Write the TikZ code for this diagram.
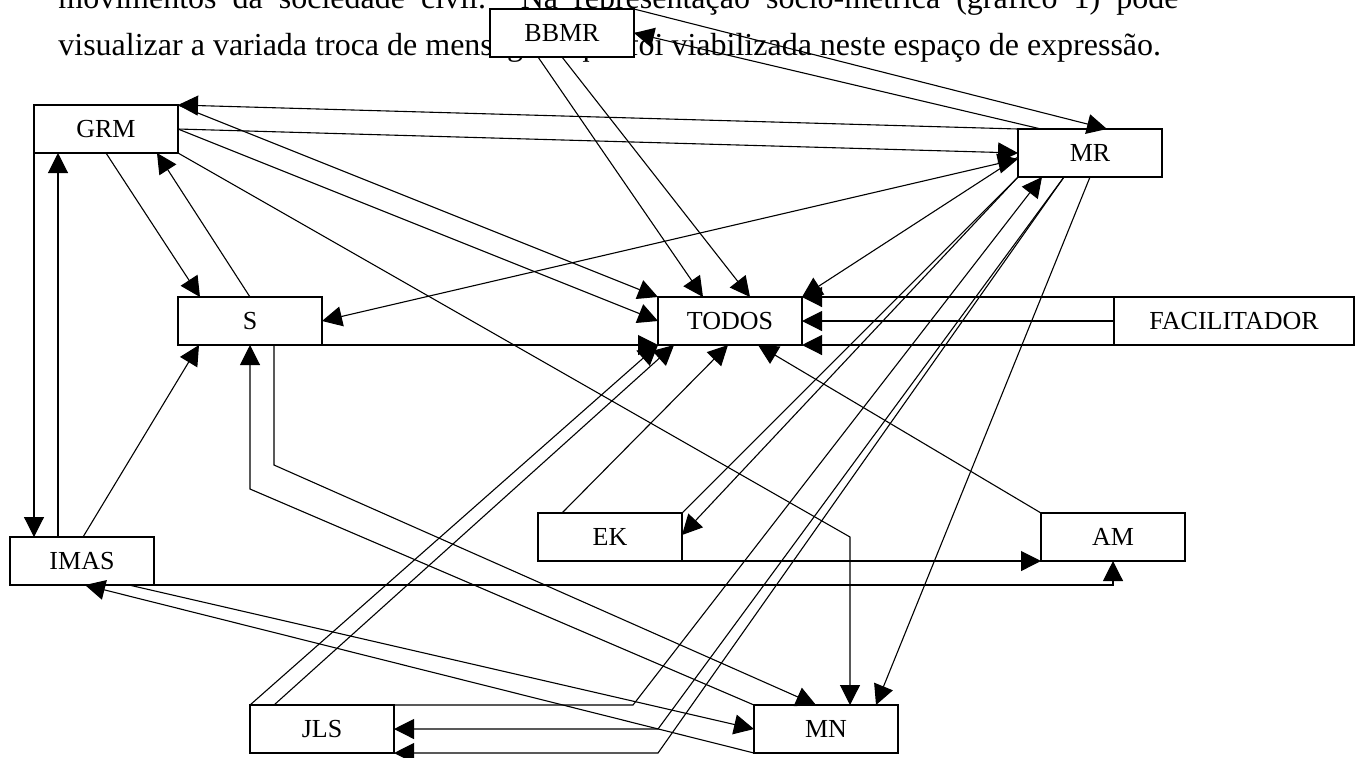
\documentclass[tikz,border=0pt]{standalone}
\usepackage{fontspec}
\setmainfont{Liberation Serif}
\usetikzlibrary{calc,arrows.meta}
\newcommand{\corpotexto}{\fontsize{16pt}{19pt}\selectfont}
\tikzset{
	caixa/.style={draw, rectangle, fill=white, line width=0.55pt, minimum width=72pt, minimum height=24pt, inner sep=0pt, outer sep=0pt, font=\fontsize{13pt}{15pt}\selectfont},
	seta/.style={line width=0.55pt, -{Triangle[length=10pt,width=10pt]}},
	dupla/.style={line width=0.55pt, {Triangle[length=10pt,width=10pt]}-{Triangle[length=10pt,width=10pt]}},
	linha/.style={line width=0.55pt}
}

\begin{document}
\begin{tikzpicture}[x=0.5pt, y=-0.5pt]
			%%%%% START %%%%%
			\useasboundingbox (0,0) rectangle (1363,757);
			\clip (0,0) rectangle (1363,757);
			
			\node[anchor=base west, inner sep=0pt, font=\corpotexto] (linha1) at (58,8) {\makebox[560pt][s]{movimentos da sociedade civil. Na representação socio-métrica (gráfico 1) pode}};
			\node[anchor=base west, inner sep=0pt, font=\corpotexto] (linha2) at (58,55) {visualizar a variada troca de mensagens que foi viabilizada neste espaço de expressão.};
			
			\node[caixa] (BBMR) at (562,33) {BBMR};
			\node[caixa] (GRM) at (106,129) {GRM};
			\node[caixa] (MR) at (1090,153) {MR};
			\node[caixa] (S) at (250,321) {S};
			\node[caixa] (TODOS) at (730,321) {TODOS};
			\node[caixa, minimum width=120pt] (FAC) at (1234,321) {FACILITADOR};
			\node[caixa] (EK) at (610,537) {EK};
			\node[caixa] (AM) at (1113,537) {AM};
			\node[caixa] (IMAS) at (82,561) {IMAS};
			\node[caixa] (JLS) at (322,729) {JLS};
			\node[caixa] (MN) at (826,729) {MN};
			
			\coordinate (grmMN) at ($(MN.north)+(24,0)$);
			\coordinate (imasGRM) at ($(IMAS.north west)+(48,0)$);
			\coordinate (sMN) at ($(S.south)+(24,0)$);
			\coordinate (jlsMR) at ($(JLS.north east)+(239,0)$);
			\coordinate (mrJLS) at ($(MR.south west)+(46,0)$);
			
			% GRM
			\draw[seta] (MR.north west) -- (GRM.north east);
			\draw[seta] (GRM.east) -- (MR.west);
			\draw[seta] (GRM.north east) -- (TODOS.north west);
			\draw[seta] (GRM.east) -- (TODOS.west);
			\draw[seta] (GRM.south east) -- (grmMN |- EK.east) -- (grmMN);
			\draw[seta] (GRM.south) -- ($(S.north west)+(22,0)$);
			\draw[seta] (S.north) -- ($(GRM.south east)+(-21,0)$);
			\draw[seta] (GRM.south west) -- (GRM.south west |- IMAS.north);
			\draw[seta] (imasGRM) -- (imasGRM |- GRM.south);
			\draw[seta] ($(IMAS.north west)+(73,0)$) -- ($(S.south west)+(21,0)$);
			
			% BBMR
			\draw[seta] (BBMR.north east) -- ($(MR.north west)+(89,0)$);
			\draw[seta] ($(MR.north west)+(23,0)$) -- (BBMR.east);
			\draw[seta] ($(BBMR.south west)+(48,0)$) -- ($(TODOS.north west)+(45,0)$);
			\draw[seta] (BBMR.south) -- ($(TODOS.north west)+(92,0)$);
			
			% MR
			\draw[dupla] ($(MR.west)+(0,6)$) -- (S.east);
			\draw[seta] ($(MR.west)+(0,4)$) -- (TODOS.north east);
			\draw[linha] (EK.north east) -- (MR.south west);
			\draw[seta] (MR.south west) -- ($(EK.east)+(0,-2)$);
			\draw[seta] (MR.south) -- ($(MN.north east)+(-22,0)$);
			\draw[seta] (JLS.north east) -- (jlsMR) -- ($(MR.south west)+(24,0)$);
			\draw[seta] (mrJLS) -- (TODOS.west |- JLS.east) -- (JLS.east);
			\draw[seta] (mrJLS) -- (TODOS.west |- JLS.south east) -- (JLS.south east);
			
			% TODOS
			\draw[seta] (FAC.north west) -- (TODOS.north east);
			\draw[seta] (FAC.west) -- (TODOS.east);
			\draw[seta] (FAC.south west) -- (TODOS.south east);
			\draw[seta] (S.south east) -- (TODOS.south west);
			\draw[seta] (JLS.north west) -- (TODOS.south west);
			\draw[seta] ($(JLS.north west)+(24,0)$) -- ($(TODOS.south west)+(16,0)$);
			\draw[seta] ($(EK.north west)+(24,0)$) -- ($(TODOS.south west)+(70,0)$);
			\draw[seta] (AM.north west) -- ($(TODOS.south west)+(100,0)$);
			
			% EK, AM, IMAS, MN
			\draw[seta] (EK.south east) -- (AM.south west);
			\draw[seta] (IMAS.south east) -| (AM.south);
			\draw[seta] (sMN) -- ($(sMN)+(0,120)$) -- ($(MN.north west)+(62,0)$);
			\draw[seta] (MN.north west) -- ($(S.south)+(0,144)$) -- (S.south);
			\draw[seta] ($(IMAS.south)+(47,0)$) -- (MN.west);
			\draw[seta] (MN.south west) -- ($(IMAS.south)+(3,0)$);
			
			%%%%% END %%%%%
\end{tikzpicture}
\end{document}
